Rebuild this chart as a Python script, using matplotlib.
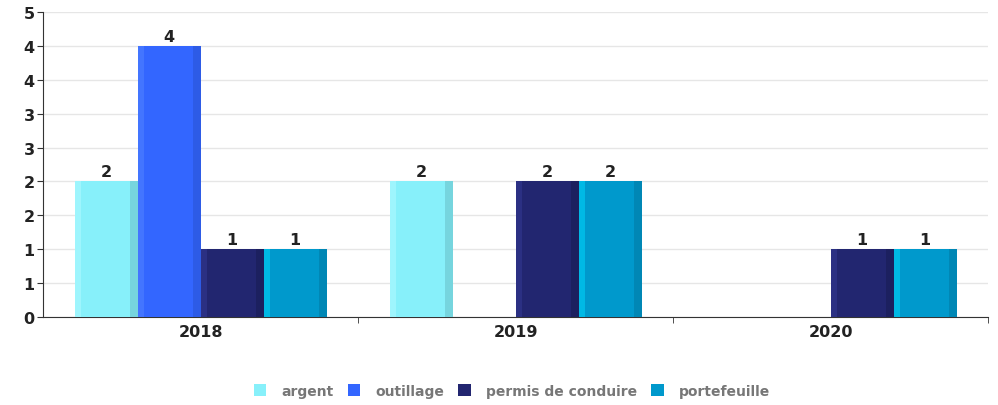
import numpy as np
import matplotlib.pyplot as plt
from matplotlib.patches import Patch

years = ['2018', '2019', '2020']
series = ['argent', 'outillage', 'permis de conduire', 'portefeuille']
argent = [2, 2, 0]
outillage = [4, 0, 0]
permis = [1, 2, 1]
portefeuille = [1, 2, 1]
values = [argent, outillage, permis, portefeuille]
colors = ['#87F0FA', '#3366FF', '#222670', '#0099CC']
edge_dark = ['#6CC4CC', '#2A55D6', '#181C55', '#007BA6']
edge_light = ['#A8F8FF', '#4A7CFF', '#30358C', '#00C8F0']

fig = plt.figure(figsize=(9.98, 4.06), dpi=100)
ax = fig.add_axes([0.0431, 0.2167, 0.9469, 0.7513])

x = np.arange(len(years))
width = 0.2
for i, (vals, col) in enumerate(zip(values, colors)):
    xs = x + (i - 1.5) * width
    vals = np.array(vals, dtype=float)
    keep = vals > 0
    bars = ax.bar(xs[keep], vals[keep], width, color=col, zorder=3, linewidth=0)
    # a bit of shading: light strip left, darker strip right
    ax.bar(xs[keep] - width * 0.45, vals[keep], width * 0.1, color=edge_light[i],
           zorder=3, linewidth=0, alpha=0.7)
    ax.bar(xs[keep] + width * 0.44, vals[keep], width * 0.12, color=edge_dark[i],
           zorder=3, linewidth=0, alpha=0.6)
    for b, v in zip(bars, vals[keep]):
        ax.text(b.get_x() + b.get_width() / 2, v + 0.03, f'{int(v)}',
                ha='center', va='bottom', fontsize=11.5, fontweight='bold', color='#222222')

ax.set_xlim(-0.5, 2.5)
ax.set_ylim(0, 4.5)
yt = np.arange(0, 4.51, 0.5)
ax.set_yticks(yt)
ax.set_yticklabels([str(int(np.floor(v + 0.5))) for v in yt], fontsize=11.5,
                   fontweight='bold', color='#222222')
ax.set_xticks(x)
ax.set_xticklabels(years, fontsize=11.5, fontweight='bold', color='#222222')
ax.tick_params(axis='x', length=0, pad=5)
ax.set_xticks([0.5, 1.5, 2.5], minor=True)
ax.tick_params(axis='x', which='minor', length=4, color='#333333')
ax.tick_params(axis='y', length=4, color='#333333', pad=2)
ax.grid(axis='y', color='#E6E6E6', linewidth=1, zorder=0)
for s in ['top', 'right']:
    ax.spines[s].set_visible(False)
ax.spines['left'].set_color('#333333')
ax.spines['bottom'].set_color('#333333')

handles = [Patch(facecolor=c, edgecolor='none') for c in colors]
fig.legend(handles, series, loc='center', bbox_to_anchor=(0.513, 0.035), ncol=4,
           frameon=False, handlelength=0.9, handleheight=0.9,
           handletextpad=1.1, columnspacing=1.0,
           prop={'weight': 'bold', 'size': 10})
for t in fig.legends[0].get_texts():
    t.set_color('#777777')

fig.savefig('out.png', dpi=100)
